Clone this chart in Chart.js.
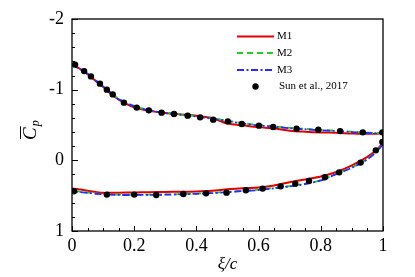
<!DOCTYPE html>
<html>
<head>
<meta charset="utf-8">
<script src="https://cdn.jsdelivr.net/npm/chart.js@4/dist/chart.umd.min.js"></script>
<style>
  html, body { margin: 0; padding: 0; background: #fff; }
  #wrap { width: 415px; height: 277px; position: relative; }
</style>
</head>
<body>
<div id="wrap"><canvas id="cpChart"></canvas></div>
<script>
// chordwise stations for the simulated curves
const xStations = [0, 0.02, 0.05, 0.08, 0.1, 0.12, 0.15, 0.2, 0.25, 0.3, 0.35, 0.4, 0.45, 0.5,
                   0.55, 0.6, 0.65, 0.7, 0.75, 0.8, 0.85, 0.9, 0.95, 0.98, 1.0];

// M1 (upper surface, then lower surface, both listed from x=0 to x=1)
const m1Upper = [-1.36, -1.31, -1.22, -1.11, -1.04, -0.96, -0.86, -0.75, -0.70, -0.67, -0.65, -0.63, -0.60, -0.52,
                 -0.495, -0.47, -0.45, -0.42, -0.405, -0.395, -0.39, -0.38, -0.375, -0.375, -0.375];
const m1Lower = [0.40, 0.41, 0.43, 0.45, 0.46, 0.46, 0.458, 0.455, 0.45, 0.447, 0.445, 0.44, 0.43, 0.41,
                 0.395, 0.385, 0.355, 0.31, 0.27, 0.23, 0.165, 0.07, -0.05, -0.15, -0.26];

// M2
const m2Upper = [-1.36, -1.31, -1.23, -1.12, -1.05, -0.98, -0.87, -0.77, -0.71, -0.675, -0.65, -0.625, -0.595, -0.56,
                 -0.525, -0.50, -0.48, -0.46, -0.445, -0.43, -0.42, -0.405, -0.39, -0.385, -0.38];
const m2Lower = [0.43, 0.44, 0.455, 0.47, 0.475, 0.48, 0.485, 0.487, 0.486, 0.483, 0.478, 0.47, 0.46, 0.445,
                 0.43, 0.415, 0.39, 0.365, 0.33, 0.28, 0.19, 0.10, -0.02, -0.13, -0.25];

// M3
const m3Upper = [-1.355, -1.305, -1.225, -1.115, -1.045, -0.975, -0.865, -0.765, -0.705, -0.67, -0.645, -0.62, -0.59, -0.555,
                 -0.52, -0.495, -0.475, -0.455, -0.44, -0.425, -0.415, -0.40, -0.387, -0.382, -0.378];
const m3Lower = [0.435, 0.445, 0.46, 0.475, 0.48, 0.485, 0.49, 0.49, 0.489, 0.486, 0.481, 0.474, 0.464, 0.45,
                 0.435, 0.42, 0.395, 0.37, 0.335, 0.285, 0.195, 0.105, -0.015, -0.125, -0.245];

// Sun et al., 2017 measurements
const sunUpperX  = [0.01, 0.039, 0.061, 0.09, 0.112, 0.131, 0.167, 0.208, 0.247, 0.288, 0.328, 0.372, 0.412, 0.454,
                    0.501, 0.546, 0.601, 0.647, 0.722, 0.792, 0.862, 0.935, 0.998];
const sunUpperCp = [-1.354, -1.263, -1.188, -1.085, -1.0, -0.933, -0.816, -0.746, -0.707, -0.675, -0.655, -0.632, -0.608, -0.576,
                    -0.552, -0.514, -0.491, -0.471, -0.448, -0.434, -0.414, -0.396, -0.396];
const sunLowerX  = [0.006, 0.112, 0.2, 0.271, 0.358, 0.431, 0.497, 0.559, 0.613, 0.671, 0.718, 0.762, 0.813, 0.859,
                    0.928, 0.977, 0.998];
const sunLowerCp = [0.438, 0.485, 0.485, 0.491, 0.477, 0.467, 0.457, 0.424, 0.40, 0.368, 0.33, 0.293, 0.24, 0.17,
                    0.032, -0.141, -0.259];

const xTicks = [0, 0.2, 0.4, 0.6, 0.8, 1];
const yTicks = [-2, -1, 0, 1];

// build a closed loop: upper surface LE->TE, then lower surface TE->LE
function loop(upper, lower) {
    const pts = xStations.map((x, i) => ({ x: x, y: upper[i] }));
    for (let i = xStations.length - 1; i >= 0; i--) pts.push({ x: xStations[i], y: lower[i] });
    return pts;
}
function pairs(xs, ys) {
    return xs.map((x, i) => ({ x: x, y: ys[i] }));
}

const SERIF = '"Liberation Serif", "DejaVu Serif", serif';

const frame = {
    id: 'frame',
    afterDraw(chart) {
        const ctx = chart.ctx;
        const a = chart.chartArea;
        const xs = chart.scales.x, ys = chart.scales.y;
        ctx.save();
        ctx.strokeStyle = '#000';
        ctx.lineWidth = 1.3;
        ctx.strokeRect(a.left, a.top, a.right - a.left, a.bottom - a.top);

        // inward ticks
        ctx.lineWidth = 1;
        ctx.beginPath();
        for (let i = 0; i <= 20; i++) {
            const v = i * 0.05;
            const px = Math.round(xs.getPixelForValue(v)) + 0.5;
            const len = (i % 4 === 0) ? 5 : 3;
            ctx.moveTo(px, a.bottom);
            ctx.lineTo(px, a.bottom - len);
        }
        for (let i = 0; i <= 15; i++) {
            const v = -2 + i * 0.2;
            const py = Math.round(ys.getPixelForValue(v)) + 0.5;
            const len = (i % 5 === 0) ? 6 : 3;
            ctx.moveTo(a.left, py);
            ctx.lineTo(a.left + len, py);
        }
        ctx.stroke();

        // y axis title: C with overline, subscript p
        ctx.translate(30, 130);
        ctx.rotate(-Math.PI / 2);
        ctx.fillStyle = '#000';
        ctx.textBaseline = 'alphabetic';
        ctx.textAlign = 'left';
        ctx.font = 'italic 19px ' + SERIF;
        const cw = ctx.measureText('C').width;
        ctx.fillText('C', -10, 6);
        ctx.lineWidth = 1;
        ctx.beginPath();
        ctx.moveTo(-9, -9.5);
        ctx.lineTo(-10 + cw + 1, -9.5);
        ctx.stroke();
        ctx.font = 'italic 12px ' + SERIF;
        ctx.fillText('p', -10 + cw + 1, 9);
        ctx.restore();

        // legend
        ctx.save();
        ctx.font = '11px ' + SERIF;
        ctx.textBaseline = 'middle';
        ctx.fillStyle = '#000';
        const items = chart.data.datasets;
        const rows = [36.5, 53, 70, 86.5];
        items.forEach((ds, k) => {
            const y = rows[k];
            if (ds.showLine) {
                ctx.strokeStyle = ds.borderColor;
                ctx.lineWidth = ds.borderWidth;
                ctx.setLineDash(ds.borderDash || []);
                ctx.beginPath();
                ctx.moveTo(237, y);
                ctx.lineTo(274, y);
                ctx.stroke();
                ctx.setLineDash([]);
                ctx.fillText(ds.label, 277, y);
            } else {
                ctx.beginPath();
                ctx.arc(255.5, y, 3.2, 0, Math.PI * 2);
                ctx.fill();
                ctx.fillText(ds.label, 279, y);
            }
        });
        ctx.restore();
    }
};

const config = {
    type: 'scatter',
    data: {
        datasets: [
            {
                label: 'M1',
                data: loop(m1Upper, m1Lower),
                showLine: true,
                borderColor: '#e00000',
                borderWidth: 2,
                pointRadius: 0,
                tension: 0.3,
                order: 3
            },
            {
                label: 'M2',
                data: loop(m2Upper, m2Lower),
                showLine: true,
                borderColor: '#22cc22',
                borderWidth: 1.8,
                borderDash: [6, 4],
                pointRadius: 0,
                tension: 0.3,
                order: 2
            },
            {
                label: 'M3',
                data: loop(m3Upper, m3Lower),
                showLine: true,
                borderColor: '#2a2aff',
                borderWidth: 1.8,
                borderDash: [7, 2.5, 2, 2.5],
                pointRadius: 0,
                tension: 0.3,
                order: 1
            },
            {
                label: 'Sun et al., 2017',
                data: pairs(sunUpperX, sunUpperCp).concat(pairs(sunLowerX, sunLowerCp)),
                showLine: false,
                pointRadius: 3.2,
                pointBackgroundColor: '#000',
                pointBorderWidth: 0,
                order: 0
            }
        ]
    },
    options: {
        responsive: true,
        maintainAspectRatio: false,
        animation: false,
        layout: { padding: { left: 0, right: 32, top: 19, bottom: 0 } },
        scales: {
            x: {
                type: 'linear',
                min: 0,
                max: 1,
                afterBuildTicks: (s) => { s.ticks = xTicks.map(v => ({ value: v })); },
                afterFit: (s) => { s.height = 46; },
                ticks: {
                    padding: 4,
                    color: '#000',
                    font: { family: SERIF, size: 18 },
                    callback: (v) => String(v)
                },
                grid: { display: false, drawTicks: false },
                border: { display: false },
                title: {
                    display: true,
                    text: 'ξ/c',
                    color: '#000',
                    font: { family: SERIF, size: 17, style: 'italic' },
                    padding: { top: 0, bottom: 2 }
                }
            },
            y: {
                type: 'linear',
                min: -2,
                max: 1,
                reverse: true,
                afterBuildTicks: (s) => { s.ticks = yTicks.map(v => ({ value: v })); },
                afterFit: (s) => { s.width = 72; },
                ticks: {
                    padding: 8,
                    color: '#000',
                    font: { family: SERIF, size: 18 },
                    callback: (v) => String(v)
                },
                grid: { display: false, drawTicks: false },
                border: { display: false }
            }
        },
        plugins: {
            legend: { display: false },
            tooltip: { enabled: false }
        }
    },
    plugins: [frame]
};

try {
    new Chart(document.getElementById('cpChart').getContext('2d'), config);
} catch (error) {
    console.error('Chart initialization failed:', error);
}
</script>
</body>
</html>
